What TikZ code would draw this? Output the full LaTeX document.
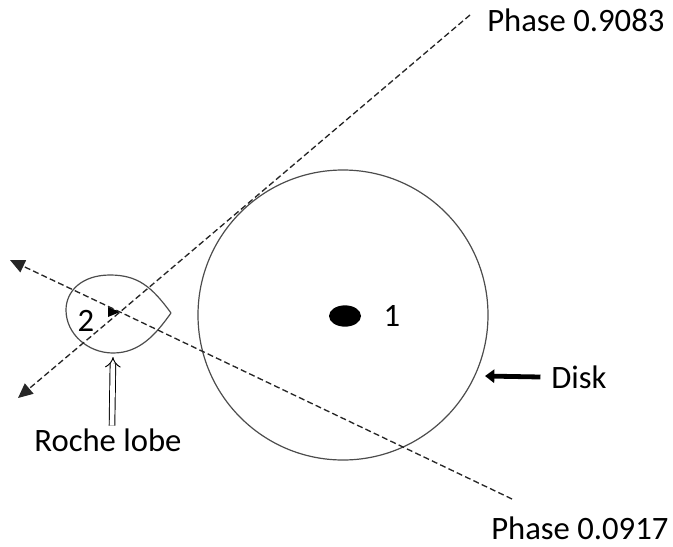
\documentclass[tikz,border=0pt]{standalone}
\usepackage{fontspec}
\setmainfont{Carlito}
\usetikzlibrary{arrows.meta,shapes}

\begin{document}
\begin{tikzpicture}[x=0.75pt, y=-0.75pt]

  \fontsize{24.5}{29}\selectfont

  \tikzset{sight/.style={dash pattern=on 4.5pt off 2.4pt, line width=1pt, color=black!85},
    tipend/.style={-{Triangle[length=11pt, width=10pt]}},
    outline/.style={line width=0.9pt, color=black!70}}

  \useasboundingbox (0,0) rectangle (673,546);

  \coordinate (cross) at (120,312);
  \coordinate (far1) at (470,15);
  \coordinate (end1) at (18,398);
  \coordinate (far2) at (512,499);
  \coordinate (end2) at (10,260);
  \coordinate (lobeS) at (113,353);
  \coordinate (rim) at (485,376);

  %% disk and star 1
  \draw[outline] (343,315) circle[radius=145];
  \node[ellipse, fill, inner sep=0pt, minimum width=24pt, minimum height=16pt] (star1) at (345,316) {};
  \node (one) at (392,316) {1};

  %% Roche lobe of star 2
  \draw[outline] (171,313) .. controls (152,287) and (138,275) .. (110,275)
    .. controls (82,275) and (66,291) .. (66,310)
    .. controls (66,334) and (88,353) .. (113,353)
    .. controls (140,353) and (156,334) .. (171,313);
  \node (two) at (86,321) {2};
  \fill (cross) -- ++(-12,-5) -- ++(0,10) -- cycle;

  %% lines of sight
  \draw[sight, tipend] (far1) -- (cross) -- (end1);
  \draw[sight, tipend] (far2) -- (cross) -- (end2);
  \node[anchor=west, inner sep=0pt] (ph1) at (487,20) {Phase 0.9083};
  \node[anchor=west, inner sep=0pt] (ph2) at (491,528) {Phase 0.0917};

  %% labels with arrows
  \node[inner sep=2pt] (disk) at (579,377) {Disk};
  \draw[line width=3.6pt, -{Triangle[length=7pt, width=10pt]}] ([xshift=-6pt]disk.west) -- (rim);
  \node[inner sep=2pt] (roche) at (108,440) {Roche lobe};
  \draw[double, double distance=3.5pt, line width=0.7pt, -{Implies}] ([xshift=3pt]roche.north) -- ([yshift=-3pt]lobeS);

\end{tikzpicture}
\end{document}
